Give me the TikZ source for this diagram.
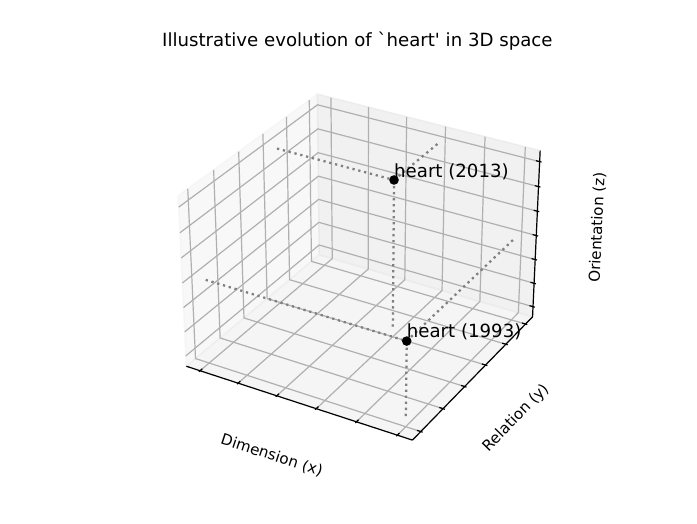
\documentclass[tikz,border=0pt]{standalone}
\usepackage{fontspec}
\setmainfont{DejaVu Sans}[Ligatures=TeXOff]
\definecolor{panex}{rgb}{0.95,0.95,0.95}
\definecolor{paney}{rgb}{0.90,0.90,0.90}
\definecolor{panez}{rgb}{0.925,0.925,0.925}
\definecolor{gridc}{HTML}{B0B0B0}
\newcommand{\mkpt}[4]{%
  \pgfmathsetmacro\mpqx{1.142857*((#2)-0.5)}%
  \pgfmathsetmacro\mpqy{1.142857*((#3)-0.5)}%
  \pgfmathsetmacro\mpqz{0.857143*((#4)-0.5)}%
  \pgfmathsetmacro\mpxv{0.866025*(\mpqx)+0.5*(\mpqy)}%
  \pgfmathsetmacro\mpyv{-0.25*(\mpqx)+0.433013*(\mpqy)+0.866025*(\mpqz)}%
  \pgfmathsetmacro\mpd{10-(0.433013*(\mpqx)-0.75*(\mpqy)+0.5*(\mpqz))}%
  \pgfmathsetmacro\mpX{362.65+2175.7*(\mpxv)/(\mpd)}%
  \pgfmathsetmacro\mpY{258.81-2175.7*(\mpyv)/(\mpd)}%
  \coordinate (#1) at (\mpX,\mpY);%
}
\tikzset{
  pane/.style={fill opacity=0.5, draw opacity=0.5, line width=1.5pt, line join=miter},
  gridline/.style={draw=gridc, line width=1.2pt},
  axisline/.style={draw=black, line width=1.2pt},
  tickline/.style={draw=black, line width=1.2pt},
  proj/.style={draw=gray, line width=2.27pt, dash pattern=on 2.27pt off 3.74pt},
  ptlab/.style={font=\fontsize{18.15}{22}\selectfont, inner sep=0pt, anchor=base west},
  axlab/.style={font=\fontsize{15.12}{18}\selectfont, inner sep=0pt, anchor=center},
}
\begin{document}
\begin{tikzpicture}[x=1pt,y=-1pt]
\fill[white] (0,0) rectangle (697,523);
\path[use as bounding box] (0,0) rectangle (697,523);
% pane corners
\mkpt{c000}{-0.020833}{-0.020833}{-0.020833}
\mkpt{c100}{1.020833}{-0.020833}{-0.020833}
\mkpt{c010}{-0.020833}{1.020833}{-0.020833}
\mkpt{c110}{1.020833}{1.020833}{-0.020833}
\mkpt{c001}{-0.020833}{-0.020833}{1.020833}
\mkpt{c011}{-0.020833}{1.020833}{1.020833}
\mkpt{c111}{1.020833}{1.020833}{1.020833}
% panes
\path[pane, fill=panex, draw=panex] (c000) -- (c010) -- (c011) -- (c001) -- cycle;
\path[pane, fill=paney, draw=paney] (c010) -- (c110) -- (c111) -- (c011) -- cycle;
\path[pane, fill=panez, draw=panez] (c000) -- (c100) -- (c110) -- (c010) -- cycle;
% grid lines
\foreach \t in {0.045455,0.227273,0.409091,0.590909,0.772727,0.954545}{
  \mkpt{ga}{\t}{-0.020833}{-0.020833}
  \mkpt{gb}{\t}{1.020833}{-0.020833}
  \mkpt{gc}{\t}{1.020833}{1.020833}
  \draw[gridline] (ga) -- (gb) -- (gc);
  \mkpt{ha}{-0.020833}{\t}{1.020833}
  \mkpt{hb}{-0.020833}{\t}{-0.020833}
  \mkpt{hc}{1.020833}{\t}{-0.020833}
  \draw[gridline] (ha) -- (hb) -- (hc);
}
\foreach \t in {0.045455,0.196970,0.348485,0.5,0.651515,0.803030,0.954545}{
  \mkpt{ka}{1.020833}{1.020833}{\t}
  \mkpt{kb}{-0.020833}{1.020833}{\t}
  \mkpt{kc}{-0.020833}{-0.020833}{\t}
  \draw[gridline] (ka) -- (kb) -- (kc);
}
% axis lines
\draw[axisline] (c000) -- (c100);
\draw[axisline] (c100) -- (c110);
\draw[axisline] (c110) -- (c111);
% ticks
\foreach \t in {0.045455,0.227273,0.409091,0.590909,0.772727,0.954545}{
  \mkpt{xa}{\t}{-0.029167}{-0.020833}
  \mkpt{xb}{\t}{-0.004167}{-0.020833}
  \draw[tickline] (xa) -- (xb);
  \mkpt{ya}{1.029167}{\t}{-0.020833}
  \mkpt{yb}{1.004167}{\t}{-0.020833}
  \draw[tickline] (ya) -- (yb);
}
\foreach \t in {0.045455,0.196970,0.348485,0.5,0.651515,0.803030,0.954545}{
  \mkpt{za}{1.029167}{1.020833}{\t}
  \mkpt{zb}{1.004167}{1.020833}{\t}
  \draw[tickline] (za) -- (zb);
}
% data points and projection lines
\mkpt{p13}{0.590909}{0.590909}{0.954545}
\mkpt{p13x}{0.045455}{0.590909}{0.954545}
\mkpt{p13y}{0.590909}{0.954545}{0.954545}
\mkpt{p13z}{0.590909}{0.590909}{0.045455}
\mkpt{p93}{0.954545}{0.045455}{0.5}
\mkpt{p93x}{0.045455}{0.045455}{0.5}
\mkpt{p93y}{0.954545}{0.954545}{0.5}
\mkpt{p93z}{0.954545}{0.045455}{0.045455}
\draw[proj] (p13x) -- (p13);
\draw[proj] (p13) -- (p13y);
\draw[proj] (p13z) -- (p13);
\draw[proj] (p93x) -- (p93);
\draw[proj] (p93) -- (p93y);
\draw[proj] (p93z) -- (p93);
\fill[black] (p13) circle[radius=4.8];
\fill[black] (p93) circle[radius=4.8];
\node[ptlab] (l13) at ([yshift=2.5pt]p13) {heart (2013)};
\node[ptlab] (l93) at ([yshift=3.5pt]p93) {heart (1993)};
% axis labels
\node[axlab, rotate=-18.09] (xlab) at (271.8,455.5) {Dimension (x)};
\node[axlab, rotate=45.75] (ylab) at (516.0,418.1) {Relation (y)};
\node[axlab, rotate=87.38] (zlab) at (597.4,227.4) {Orientation (z)};
% title
\node[font=\fontsize{18.15}{22}\selectfont, inner sep=0pt, anchor=base] (title) at (357.4,46) {Illustrative evolution of `heart' in 3D space};
\end{tikzpicture}
\end{document}
